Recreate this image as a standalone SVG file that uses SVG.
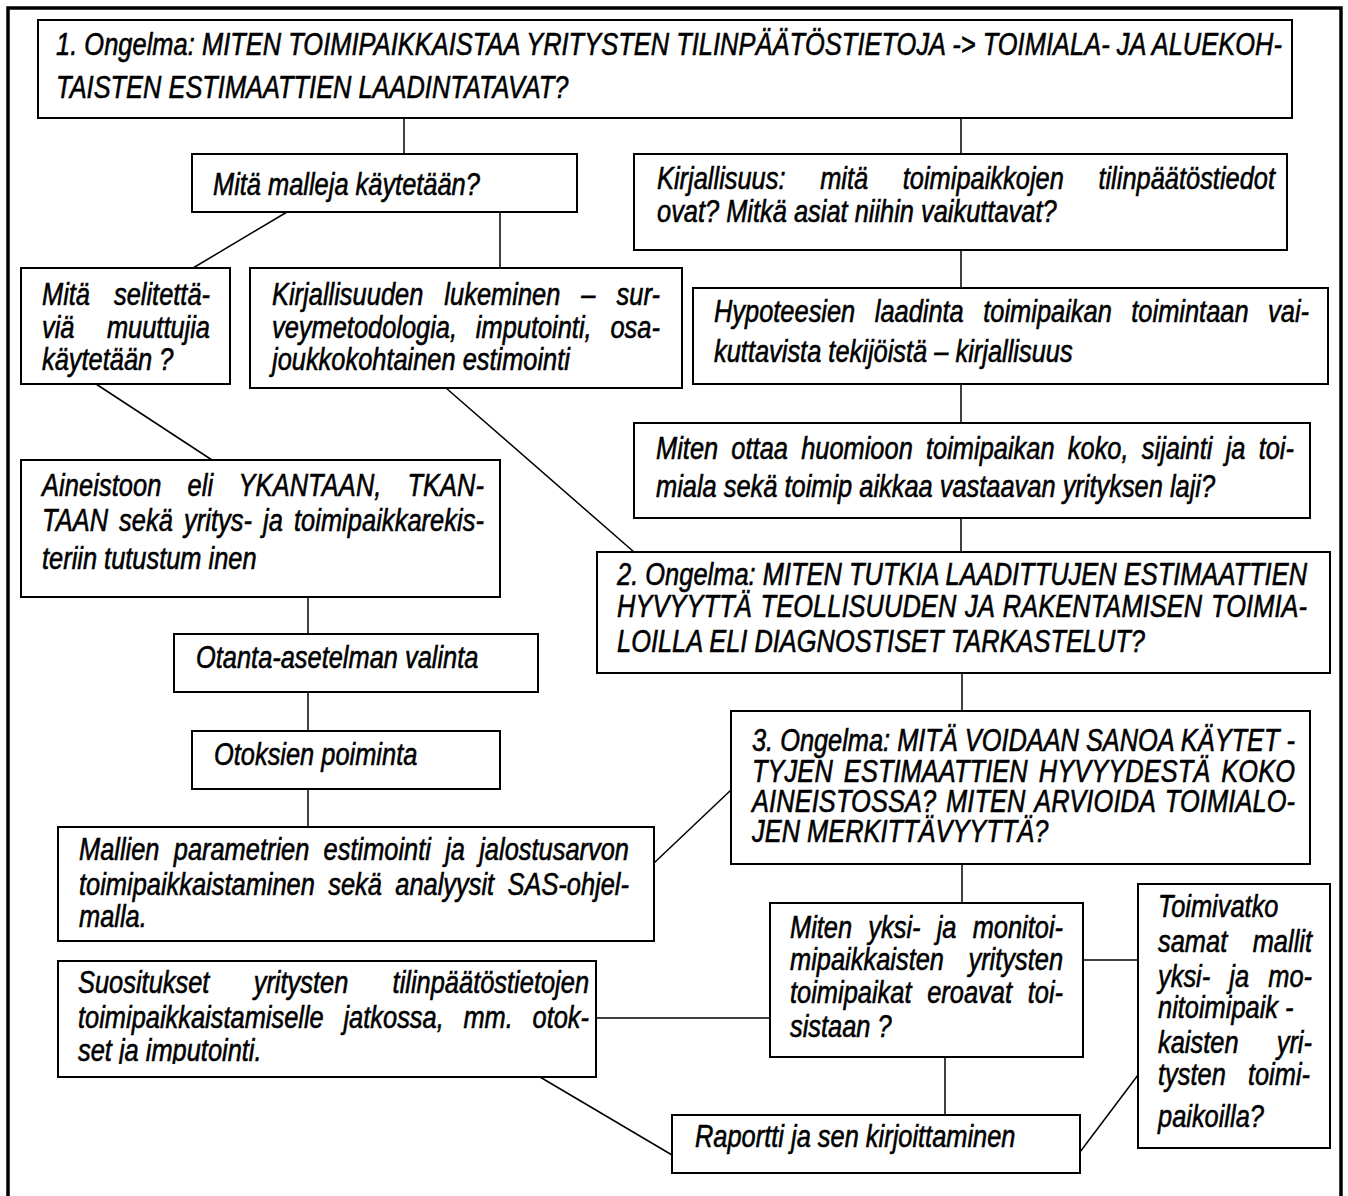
<svg xmlns="http://www.w3.org/2000/svg" width="1348" height="1196" viewBox="0 0 1348 1196">
<style>
.box{fill:#fff;stroke:#000;stroke-width:2}
.t{font-family:"Liberation Sans Narrow","Arial Narrow","Liberation Sans",Arial,sans-serif;font-style:italic;font-size:31px;fill:#000;stroke:#000;stroke-width:0.6px}
.c{stroke:#000;stroke-width:1.5;fill:none}
.frame{stroke:#000;stroke-width:3.5;fill:none}
</style>
<defs>
<clipPath id="clipN"><rect x="58" y="961" width="538" height="103"/></clipPath>
</defs>
<rect x="0" y="0" width="1348" height="1196" fill="#fff"/>
<path class="frame" d="M8,1196 V8 H1341 V1196"/>
<g id="connectors">
<line class="c" x1="404" y1="118" x2="404" y2="154"/>
<line class="c" x1="961" y1="118" x2="961" y2="154"/>
<line class="c" x1="287" y1="212" x2="193" y2="268"/>
<line class="c" x1="500" y1="212" x2="500" y2="268"/>
<line class="c" x1="961" y1="250" x2="961" y2="288"/>
<line class="c" x1="961" y1="384" x2="961" y2="423"/>
<line class="c" x1="961" y1="518" x2="961" y2="552"/>
<line class="c" x1="96" y1="384" x2="212" y2="460"/>
<line class="c" x1="446" y1="388" x2="634" y2="552"/>
<line class="c" x1="308" y1="597" x2="308" y2="634"/>
<line class="c" x1="308" y1="692" x2="308" y2="731"/>
<line class="c" x1="308" y1="789" x2="308" y2="827"/>
<line class="c" x1="962" y1="673" x2="962" y2="711"/>
<line class="c" x1="654" y1="863" x2="731" y2="790"/>
<line class="c" x1="962" y1="864" x2="962" y2="903"/>
<line class="c" x1="1083" y1="960" x2="1138" y2="960"/>
<line class="c" x1="596" y1="1018" x2="770" y2="1018"/>
<line class="c" x1="945" y1="1057" x2="945" y2="1115"/>
<line class="c" x1="540" y1="1077" x2="672" y2="1155"/>
<line class="c" x1="1080" y1="1152" x2="1138" y2="1075"/>
</g>
<g id="nodeA">
<rect class="box" x="38" y="20" width="1254" height="98"/>
<text class="t" transform="translate(56 55) scale(0.82 1)" textLength="1495" lengthAdjust="spacing">1. Ongelma: MITEN TOIMIPAIKKAISTAA YRITYSTEN TILINPÄÄTÖSTIETOJA -&gt; TOIMIALA- JA ALUEKOH-</text>
<text class="t" transform="translate(56 98) scale(0.82 1)">TAISTEN ESTIMAATTIEN LAADINTATAVAT?</text>
</g>
<g id="nodeB">
<rect class="box" x="192" y="154" width="385" height="58"/>
<text class="t" transform="translate(213 195) scale(0.82 1)">Mitä malleja käytetään?</text>
</g>
<g id="nodeC">
<rect class="box" x="634" y="154" width="653" height="96"/>
<text class="t" transform="translate(657 189) scale(0.82 1)" style="word-spacing:33.6px" textLength="753.7" lengthAdjust="spacing">Kirjallisuus: mitä toimipaikkojen tilinpäätöstiedot</text>
<text class="t" transform="translate(657 222) scale(0.82 1)">ovat? Mitkä asiat niihin vaikuttavat?</text>
</g>
<g id="nodeD">
<rect class="box" x="21" y="268" width="209" height="116"/>
<text class="t" transform="translate(42 305) scale(0.82 1)" style="word-spacing:20.6px" textLength="204.9" lengthAdjust="spacing">Mitä selitettä-</text>
<text class="t" transform="translate(42 338) scale(0.82 1)" style="word-spacing:30.9px" textLength="204.9" lengthAdjust="spacing">viä muuttujia</text>
<text class="t" transform="translate(42 370) scale(0.82 1)">käytetään ?</text>
</g>
<g id="nodeE">
<rect class="box" x="250" y="268" width="432" height="120"/>
<text class="t" transform="translate(272 305) scale(0.82 1)" style="word-spacing:17px" textLength="473" lengthAdjust="spacing">Kirjallisuuden lukeminen – sur-</text>
<text class="t" transform="translate(272 338) scale(0.82 1)" style="word-spacing:14.3px" textLength="473" lengthAdjust="spacing">veymetodologia, imputointi, osa-</text>
<text class="t" transform="translate(272 370) scale(0.82 1)">joukkokohtainen estimointi</text>
</g>
<g id="nodeF">
<rect class="box" x="693" y="288" width="635" height="96"/>
<text class="t" transform="translate(714 322) scale(0.82 1)" style="word-spacing:15.2px" textLength="725.6" lengthAdjust="spacing">Hypoteesien laadinta toimipaikan toimintaan vai-</text>
<text class="t" transform="translate(714 362) scale(0.82 1)">kuttavista tekijöistä – kirjallisuus</text>
</g>
<g id="nodeG">
<rect class="box" x="634" y="423" width="676" height="95"/>
<text class="t" transform="translate(656 459) scale(0.82 1)" style="word-spacing:7.5px" textLength="778" lengthAdjust="spacing">Miten ottaa huomioon toimipaikan koko, sijainti ja toi-</text>
<text class="t" transform="translate(656 497) scale(0.82 1)">miala sekä toimip aikkaa vastaavan yrityksen laji?</text>
</g>
<g id="nodeH">
<rect class="box" x="21" y="460" width="479" height="137"/>
<text class="t" transform="translate(42 496) scale(0.82 1)" style="word-spacing:22.9px" textLength="539" lengthAdjust="spacing">Aineistoon eli YKANTAAN, TKAN-</text>
<text class="t" transform="translate(42 531) scale(0.82 1)" style="word-spacing:4.7px" textLength="539" lengthAdjust="spacing">TAAN sekä yritys- ja toimipaikkarekis-</text>
<text class="t" transform="translate(42 569) scale(0.82 1)">teriin tutustum inen</text>
</g>
<g id="nodeI">
<rect class="box" x="597" y="552" width="733" height="121"/>
<text class="t" transform="translate(617 585) scale(0.82 1)" textLength="841.5" lengthAdjust="spacing">2. Ongelma: MITEN TUTKIA LAADITTUJEN ESTIMAATTIEN</text>
<text class="t" transform="translate(617 617) scale(0.82 1)" style="word-spacing:2px" textLength="841.5" lengthAdjust="spacing">HYVYYTTÄ TEOLLISUUDEN JA RAKENTAMISEN TOIMIA-</text>
<text class="t" transform="translate(617 652) scale(0.82 1)">LOILLA ELI DIAGNOSTISET TARKASTELUT?</text>
</g>
<g id="nodeJ">
<rect class="box" x="174" y="634" width="364" height="58"/>
<text class="t" transform="translate(196 668) scale(0.82 1)">Otanta-asetelman valinta</text>
</g>
<g id="nodeK">
<rect class="box" x="192" y="731" width="308" height="58"/>
<text class="t" transform="translate(214 765) scale(0.82 1)">Otoksien poiminta</text>
</g>
<g id="nodeL">
<rect class="box" x="58" y="827" width="596" height="114"/>
<text class="t" transform="translate(79 860) scale(0.82 1)" style="word-spacing:8.75px" textLength="670.7" lengthAdjust="spacing">Mallien parametrien estimointi ja jalostusarvon</text>
<text class="t" transform="translate(79 895) scale(0.82 1)" style="word-spacing:7.7px" textLength="670.7" lengthAdjust="spacing">toimipaikkaistaminen sekä analyysit SAS-ohjel-</text>
<text class="t" transform="translate(79 927) scale(0.82 1)">malla.</text>
</g>
<g id="nodeM">
<rect class="box" x="731" y="711" width="579" height="153"/>
<text class="t" transform="translate(752 751) scale(0.82 1)" textLength="662.2" lengthAdjust="spacing">3. Ongelma: MITÄ VOIDAAN SANOA KÄYTET -</text>
<text class="t" transform="translate(752 782) scale(0.82 1)" style="word-spacing:4.8px" textLength="662.2" lengthAdjust="spacing">TYJEN ESTIMAATTIEN HYVYYDESTÄ KOKO</text>
<text class="t" transform="translate(752 812) scale(0.82 1)" style="word-spacing:3.1px" textLength="662.2" lengthAdjust="spacing">AINEISTOSSA? MITEN ARVIOIDA TOIMIALO-</text>
<text class="t" transform="translate(752 842) scale(0.82 1)">JEN MERKITTÄVYYTTÄ?</text>
</g>
<g id="nodeN">
<rect class="box" x="58" y="961" width="538" height="116"/>
<text class="t" transform="translate(78 993) scale(0.82 1)" style="word-spacing:45.4px" textLength="623.2" lengthAdjust="spacing">Suositukset yritysten tilinpäätöstietojen</text>
<text class="t" transform="translate(78 1028) scale(0.82 1)" style="word-spacing:15.4px" textLength="623.2" lengthAdjust="spacing">toimipaikkaistamiselle jatkossa, mm. otok-</text>
<g clip-path="url(#clipN)">
<text class="t" transform="translate(78 1061) scale(0.82 1)">set ja imputointi.</text>
</g>
</g>
<g id="nodeO">
<rect class="box" x="770" y="903" width="313" height="154"/>
<text class="t" transform="translate(790 938) scale(0.82 1)" style="word-spacing:11.1px" textLength="333" lengthAdjust="spacing">Miten yksi- ja monitoi-</text>
<text class="t" transform="translate(790 970) scale(0.82 1)" style="word-spacing:21.2px" textLength="333" lengthAdjust="spacing">mipaikkaisten yritysten</text>
<text class="t" transform="translate(790 1003) scale(0.82 1)" style="word-spacing:10.6px" textLength="333" lengthAdjust="spacing">toimipaikat eroavat toi-</text>
<text class="t" transform="translate(790 1037) scale(0.82 1)">sistaan ?</text>
</g>
<g id="nodeP">
<rect class="box" x="1138" y="884" width="192" height="264"/>
<text class="t" transform="translate(1158 917) scale(0.82 1)">Toimivatko</text>
<text class="t" transform="translate(1158 952) scale(0.82 1)" style="word-spacing:22.4px" textLength="187.8" lengthAdjust="spacing">samat mallit</text>
<text class="t" transform="translate(1158 987) scale(0.82 1)" style="word-spacing:14.7px" textLength="187.8" lengthAdjust="spacing">yksi- ja mo-</text>
<text class="t" transform="translate(1158 1018) scale(0.82 1)">nitoimipaik -</text>
<text class="t" transform="translate(1158 1053) scale(0.82 1)" style="word-spacing:37.9px" textLength="187.8" lengthAdjust="spacing">kaisten yri-</text>
<text class="t" transform="translate(1158 1085) scale(0.82 1)" style="word-spacing:18.3px" textLength="185.4" lengthAdjust="spacing">tysten toimi-</text>
<text class="t" transform="translate(1158 1127) scale(0.82 1)">paikoilla?</text>
</g>
<g id="nodeQ">
<rect class="box" x="672" y="1115" width="408" height="58"/>
<text class="t" transform="translate(695 1147) scale(0.82 1)">Raportti ja sen kirjoittaminen</text>
</g>
</svg>
